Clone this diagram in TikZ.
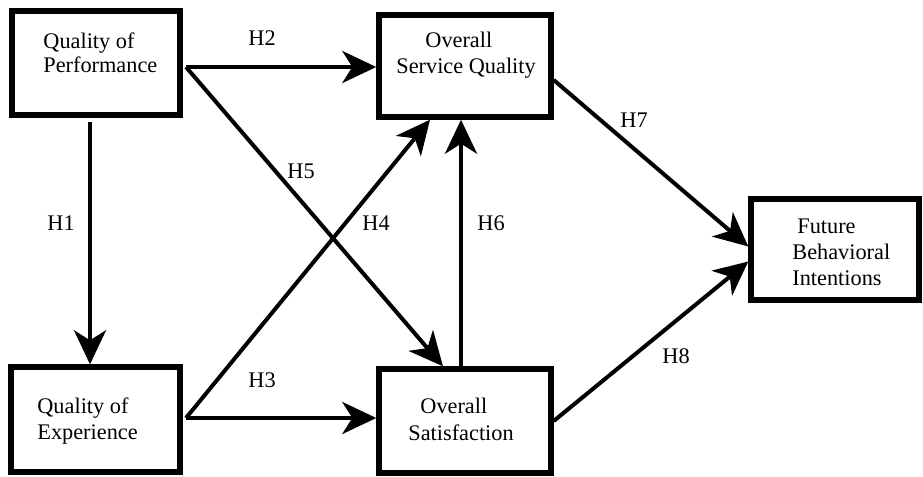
\documentclass[tikz,border=0pt]{standalone}
\usepackage{fontspec}
\setmainfont{Liberation Serif}
\usetikzlibrary{arrows.meta}
\begin{document}
\begin{tikzpicture}[x=0.5pt,y=-0.5pt,
  box/.style={draw, line width=2.7pt, inner sep=0pt, fill=white},
  txt/.style={inner sep=0pt, anchor=base west, font=\fontsize{11.15}{13}\selectfont},
  arr/.style={line width=2pt, -{Stealth[length=17pt,width=16pt,inset=5pt]}}]
\useasboundingbox (0,0) rectangle (923,477);
% boxes
\node[box, minimum width=84pt, minimum height=52pt] (qp) at (96,63) {};
\node[box, minimum width=84.5pt, minimum height=52.5pt] (qe) at (95.5,419.5) {};
\node[box, minimum width=86pt, minimum height=51pt] (osq) at (465,66) {};
\node[box, minimum width=86pt, minimum height=52pt] (os) at (465,421) {};
\node[box, minimum width=84pt, minimum height=50.5pt] (fbi) at (835,249.5) {};
% box texts
\node[txt] (qp1) at (43,48) {Quality of};
\node[txt] (qp2) at (43,72) {Performance};
\node[txt] (qe1) at (37,413) {Quality of};
\node[txt] (qe2) at (37,439) {Experience};
\node[txt] (osq1) at (425,47) {Overall};
\node[txt] (osq2) at (396,73) {Service Quality};
\node[txt] (os1) at (420,413) {Overall};
\node[txt] (os2) at (408,440) {Satisfaction};
\node[txt] (fbi1) at (797,233) {Future};
\node[txt] (fbi2) at (792,259) {Behavioral};
\node[txt] (fbi3) at (792,285) {Intentions};
% junctions
\coordinate (h1s) at (90,122);
\coordinate (j1) at (186,67);
\coordinate (j2) at (186,418);
\coordinate (h6s) at ([xshift=-2pt]os.north);
% connectors
\draw[arr] (h1s) -- (h1s |- qe.north);
\draw[arr] (j1) -- (j1 -| osq.west);
\draw[arr] (j1) -- ([xshift=-11pt]os.north);
\draw[arr] (j2) -- (j2 -| os.west);
\draw[arr] (j2) -- ([xshift=-17.5pt]osq.south);
\draw[arr] (h6s) -- (h6s |- osq.south);
\draw[arr] ([yshift=-7pt]osq.east) -- ([yshift=1.5pt]fbi.west);
\draw[arr] (os.east) -- ([yshift=-6pt]fbi.west);
% labels
\node[txt] (lh1) at (47,230) {H1};
\node[txt] (lh2) at (248,45) {H2};
\node[txt] (lh3) at (248,387) {H3};
\node[txt] (lh4) at (362,230) {H4};
\node[txt] (lh5) at (287,178) {H5};
\node[txt] (lh6) at (477,230) {H6};
\node[txt] (lh7) at (620,127) {H7};
\node[txt] (lh8) at (662,363) {H8};
\end{tikzpicture}
\end{document}
